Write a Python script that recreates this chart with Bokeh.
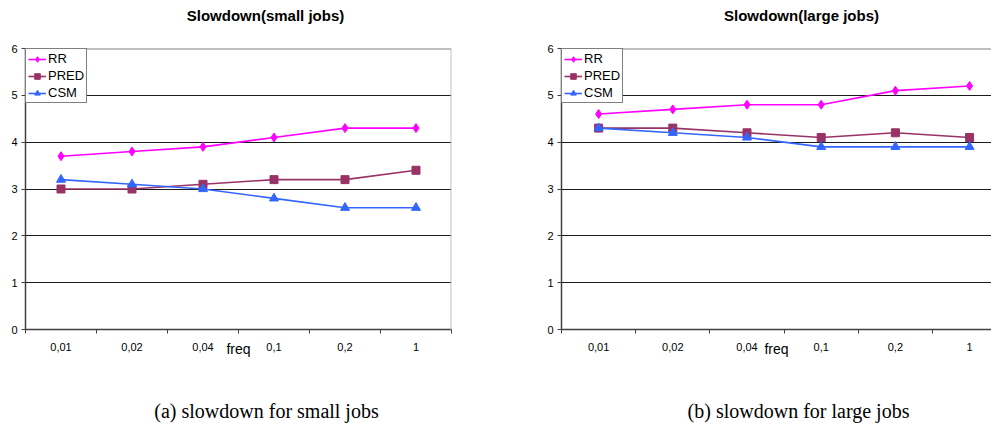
from bokeh.plotting import figure
from bokeh.models import Range1d, FixedTicker, Span, Legend
from bokeh.layouts import row, column
from bokeh.core.properties import value
from bokeh.embed import file_html
from bokeh.resources import INLINE

freq_labels = ["0,01", "0,02", "0,04", "0,1", "0,2", "1"]
series_names = ["RR", "PRED", "CSM"]

small_rr = [3.7, 3.8, 3.9, 4.1, 4.3, 4.3]
small_pred = [3.0, 3.0, 3.1, 3.2, 3.2, 3.4]
small_csm = [3.2, 3.1, 3.0, 2.8, 2.6, 2.6]

large_rr = [4.6, 4.7, 4.8, 4.8, 5.1, 5.2]
large_pred = [4.3, 4.3, 4.2, 4.1, 4.2, 4.1]
large_csm = [4.3, 4.2, 4.1, 3.9, 3.9, 3.9]

y_ticks = [0, 1, 2, 3, 4, 5, 6]

titles = ["Slowdown(small jobs)", "Slowdown(large jobs)"]
captions = ["(a) slowdown for small jobs", "(b) slowdown for large jobs"]

colors = {"RR": "#FF00FF", "PRED": "#993366", "CSM": "#3366FF"}
markers = {"RR": "diamond", "PRED": "square", "CSM": "triangle"}
msizes = {"RR": 9, "PRED": 8, "CSM": 9}

SANS = "Liberation Sans"
SERIF = "Liberation Serif"

W1, W2 = 511, 480
H_TOP, H_MAIN, H_CAP = 40, 325, 63


def text_strip(width, height, txt, cx, cy, font, size, style):
    f = figure(width=width, height=height, output_backend="svg", toolbar_location=None,
               x_range=Range1d(0, width), y_range=Range1d(0, height),
               min_border=0, min_border_left=0, min_border_right=0,
               min_border_top=0, min_border_bottom=0)
    f.axis.visible = False
    f.grid.visible = False
    f.outline_line_color = None
    f.background_fill_color = "white"
    f.border_fill_color = "white"
    f.text(x=[cx], y=[height - cy], text=[txt], text_font=value(font),
           text_font_size=size, text_font_style=style, text_color="black",
           text_align="center", text_baseline="middle")
    return f


def make_chart(rr, pred, csm, width, left, right, x_end):
    xs = list(range(len(freq_labels)))
    p = figure(width=width, height=H_MAIN, output_backend="svg", toolbar_location=None,
               x_range=Range1d(-0.5, x_end), y_range=Range1d(0, 6),
               min_border_left=left, min_border_right=right, min_border_top=8,
               min_border_bottom=36)
    p.outline_line_color = None
    p.background_fill_color = "white"
    p.border_fill_color = "white"

    p.xaxis.ticker = FixedTicker(ticks=xs, minor_ticks=[i - 0.5 for i in range(len(freq_labels) + 1)])
    p.xaxis.major_label_overrides = {i: lab for i, lab in enumerate(freq_labels)}
    p.xaxis.major_tick_out = 0
    p.xaxis.major_tick_in = 0
    p.xaxis.minor_tick_out = 4
    p.xaxis.minor_tick_in = 0
    p.xaxis.minor_tick_line_color = "#404040"
    p.xaxis.axis_line_color = "#404040"
    p.xaxis.axis_line_width = 1.5
    p.xaxis.major_label_text_font = SANS
    p.xaxis.major_label_text_font_size = "11px"
    p.xaxis.major_label_text_color = "black"
    p.xaxis.major_label_standoff = 9
    p.xaxis.axis_label = "freq"
    p.xaxis.axis_label_text_font = SANS
    p.xaxis.axis_label_text_font_style = "normal"
    p.xaxis.axis_label_text_font_size = "14px"
    p.xaxis.axis_label_text_color = "black"
    p.xaxis.axis_label_standoff = -13

    p.yaxis.ticker = FixedTicker(ticks=y_ticks)
    p.yaxis.minor_tick_line_color = None
    p.yaxis.major_tick_out = 4
    p.yaxis.major_tick_in = 0
    p.yaxis.major_tick_line_color = "#404040"
    p.yaxis.axis_line_color = "#404040"
    p.yaxis.axis_line_width = 1.5
    p.yaxis.major_label_text_font = SANS
    p.yaxis.major_label_text_font_size = "11px"
    p.yaxis.major_label_text_color = "black"
    p.yaxis.major_label_standoff = 4

    p.xgrid.grid_line_color = None
    p.ygrid.ticker = FixedTicker(ticks=y_ticks)
    p.ygrid.grid_line_color = "#1a1a1a"
    p.ygrid.grid_line_width = 1

    p.add_layout(Span(location=6, dimension="width", line_color="#808080", line_width=2))
    if x_end >= 5.5:
        p.add_layout(Span(location=5.5, dimension="height", line_color="#c0c0c0", line_width=2))

    items = []
    for name, vals in zip(series_names, [rr, pred, csm]):
        l = p.line(xs, vals, line_color=colors[name], line_width=1.6)
        s = p.scatter(xs, vals, marker=markers[name], size=msizes[name],
                      fill_color=colors[name], line_color=colors[name])
        items.append((name, [l, s]))

    legend = Legend(items=items, location="top_left")
    legend.margin = 0
    legend.padding = 2
    legend.spacing = 2
    legend.glyph_width = 18
    legend.glyph_height = 14
    legend.label_height = 14
    legend.label_standoff = 2
    legend.label_text_font = SANS
    legend.label_text_font_size = "13px"
    legend.label_text_color = "black"
    legend.border_line_color = "black"
    legend.border_line_width = 1.2
    legend.background_fill_color = "white"
    legend.background_fill_alpha = 1
    p.add_layout(legend, "center")
    return p


p1 = make_chart(small_rr, small_pred, small_csm, W1, 25, 60, 5.5)
p2 = make_chart(large_rr, large_pred, large_csm, W2, 50, 0, -0.5 + 430 / 74.2)

t1 = text_strip(W1, H_TOP, titles[0], 265, 14.5, SANS, "15px", "bold")
t2 = text_strip(W2, H_TOP, titles[1], 801 - W1, 14.5, SANS, "15px", "bold")
c1 = text_strip(W1, H_CAP, captions[0], 266, 45, SERIF, "20px", "normal")
c2 = text_strip(W2, H_CAP, captions[1], 798 - W1, 45, SERIF, "20px", "normal")

layout = column(row(t1, t2), row(p1, p2), row(c1, c2))
open("out.html", "w").write(file_html(layout, INLINE))
